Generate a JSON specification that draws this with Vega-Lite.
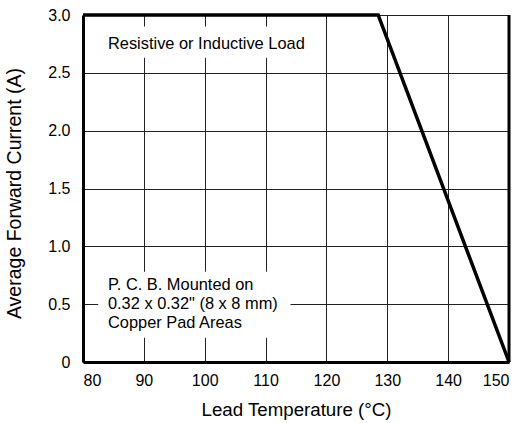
{
  "$schema": "https://vega.github.io/schema/vega-lite/v6.json",
  "width": 426,
  "height": 347,
  "autosize": {"type": "none"},
  "padding": {"left": 83, "top": 15, "right": 16, "bottom": 61},
  "background": "white",
  "config": {
    "font": "Liberation Sans",
    "view": {"stroke": "#000", "strokeWidth": 1},
    "axis": {
      "labelFont": "Liberation Sans",
      "titleFont": "Liberation Sans",
      "labelFontSize": 16,
      "titleFontWeight": "normal",
      "labelColor": "#000",
      "titleColor": "#000",
      "gridColor": "#222",
      "gridOpacity": 1,
      "gridWidth": 1,
      "domainColor": "#000",
      "domainWidth": 3,
      "ticks": false
    }
  },
  "datasets": {
    "curve": [
      {"temp": 80, "current": 3.0},
      {"temp": 128.5, "current": 3.0},
      {"temp": 150, "current": 0}
    ],
    "boxes": [
      {"x1": 82.5, "x2": 118.4, "y1": 2.63, "y2": 2.9},
      {"x1": 82.5, "x2": 114.1, "y1": 0.21, "y2": 0.78}
    ],
    "notes": [
      {"temp": 84.1, "current": 2.75, "label": "Resistive or Inductive Load"},
      {"temp": 84.1, "current": 0.667, "label": "P. C. B. Mounted on"},
      {"temp": 84.1, "current": 0.5, "label": "0.32 x 0.32\" (8 x 8 mm)"},
      {"temp": 84.1, "current": 0.333, "label": "Copper Pad Areas"}
    ],
    "edge": [{"temp": 150}]
  },
  "layer": [
    {
      "data": {"name": "boxes"},
      "mark": {"type": "rect", "fill": "white", "stroke": null},
      "encoding": {
        "x": {"field": "x1", "type": "quantitative", "scale": {"domain": [80, 150], "nice": false, "zero": false},
          "axis": {"values": [80, 90, 100, 110, 120, 130, 140, 150], "grid": true, "labelPadding": 10, "title": "Lead Temperature (°C)", "titleFontSize": 18.7, "titlePadding": 12}},
        "x2": {"field": "x2"},
        "y": {"field": "y1", "type": "quantitative", "scale": {"domain": [0, 3], "nice": false},
          "axis": {"values": [0, 0.5, 1, 1.5, 2, 2.5, 3], "grid": true, "labelPadding": 13,
            "labelExpr": "datum.value == 0 ? '0' : format(datum.value, '.1f')",
            "title": "Average Forward Current (A)", "titleFontSize": 19.5, "titlePadding": 23, "titleY": 178}},
        "y2": {"field": "y2"}
      }
    },
    {
      "data": {"name": "notes"},
      "mark": {"type": "text", "align": "left", "baseline": "middle", "fontSize": 16.4, "font": "Liberation Sans", "color": "#000"},
      "encoding": {
        "x": {"field": "temp", "type": "quantitative"},
        "y": {"field": "current", "type": "quantitative"},
        "text": {"field": "label"}
      }
    },
    {
      "data": {"name": "edge"},
      "mark": {"type": "rule", "color": "#000", "strokeWidth": 3},
      "encoding": {"x": {"field": "temp", "type": "quantitative"}}
    },
    {
      "data": {"name": "curve"},
      "mark": {"type": "line", "color": "#000", "strokeWidth": 3.5, "clip": false},
      "encoding": {
        "x": {"field": "temp", "type": "quantitative"},
        "y": {"field": "current", "type": "quantitative"}
      }
    }
  ]
}
